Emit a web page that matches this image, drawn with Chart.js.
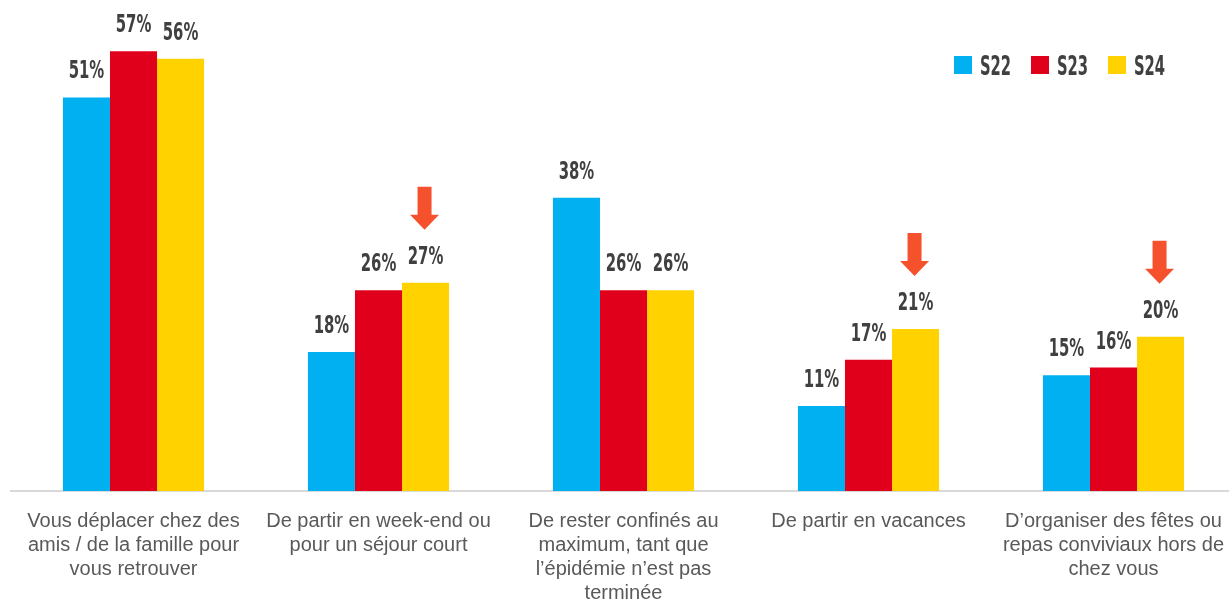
<!DOCTYPE html>
<html>
<head>
<meta charset="utf-8">
<script src="https://cdn.jsdelivr.net/npm/chart.js@4"></script>
<style>
  html, body { margin: 0; padding: 0; background: #fff; overflow: hidden; }
  canvas { display: block; }
</style>
</head>
<body>
<canvas id="chart" width="1240" height="599"></canvas>
<script>
// categories (x labels, split on lines)
const categories = [
    ['Vous déplacer chez des', 'amis / de la famille pour', 'vous retrouver'],
    ['De partir en week-end ou', 'pour un séjour court'],
    ['De rester confinés au', 'maximum, tant que', 'l\u2019épidémie n\u2019est pas', 'terminée'],
    ['De partir en vacances'],
    ['D\u2019organiser des fêtes ou', 'repas conviviaux hors de', 'chez vous']
];
const seriesNames = ['S22', 'S23', 'S24'];
const s22 = [51, 18, 38, 11, 15];
const s23 = [57, 26, 26, 17, 16];
const s24 = [56, 27, 26, 21, 20];
// down arrows over the S24 bar
const arrowFlags = [false, true, false, true, true];

const colors = ['#00B0F0', '#E0001B', '#FFD200'];
const numFont = 'bold 25px "DejaVu Sans Condensed", "DejaVu Sans", sans-serif';

// condensed look: squeeze text horizontally
function narrowText(ctx, text, x, y, sx){
    ctx.save();
    ctx.translate(x, y);
    ctx.scale(sx, 1);
    ctx.fillText(text, 0, 0);
    ctx.restore();
}

// values above bars + arrows
const labelsPlugin = {
    id: 'barLabels',
    afterDatasetsDraw(chart){
        const ctx = chart.ctx;
        ctx.save();
        ctx.font = numFont;
        ctx.fillStyle = '#404040';
        ctx.textAlign = 'center';
        ctx.textBaseline = 'alphabetic';
        chart.data.datasets.forEach((ds, di) => {
            const meta = chart.getDatasetMeta(di);
            meta.data.forEach((bar, i) => {
                narrowText(ctx, ds.data[i] + '%', bar.x, bar.y - 19, 0.66);
            });
        });
        // arrows
        const meta = chart.getDatasetMeta(2);
        ctx.fillStyle = '#F4512C';
        meta.data.forEach((bar, i) => {
            if (!arrowFlags[i]) return;
            const cx = bar.x - 1, bottom = bar.y - 53;
            const h = 43, headH = 15, shaft = 14, head = 29;
            ctx.beginPath();
            ctx.moveTo(cx - shaft/2, bottom - h);
            ctx.lineTo(cx + shaft/2, bottom - h);
            ctx.lineTo(cx + shaft/2, bottom - headH);
            ctx.lineTo(cx + head/2, bottom - headH);
            ctx.lineTo(cx, bottom);
            ctx.lineTo(cx - head/2, bottom - headH);
            ctx.lineTo(cx - shaft/2, bottom - headH);
            ctx.closePath();
            ctx.fill();
        });
        ctx.restore();
    }
};

// legend top right
const legendPlugin = {
    id: 'topLegend',
    afterDraw(chart){
        const ctx = chart.ctx;
        ctx.save();
        ctx.font = 'bold 26px "DejaVu Sans Condensed", "DejaVu Sans", sans-serif';
        ctx.textBaseline = 'alphabetic';
        ctx.textAlign = 'left';
        let x = 954;
        chart.data.datasets.forEach((ds) => {
            ctx.fillStyle = ds.backgroundColor;
            ctx.fillRect(x, 56, 18, 18);
            ctx.fillStyle = '#404040';
            narrowText(ctx, ds.label, x + 26, 75, 0.63);
            x += 77;
        });
        ctx.restore();
    }
};

new Chart(document.getElementById('chart'), {
    type: 'bar',
    data: {
        labels: categories,
        datasets: [
            { label: seriesNames[0], data: s22, backgroundColor: colors[0] },
            { label: seriesNames[1], data: s23, backgroundColor: colors[1] },
            { label: seriesNames[2], data: s24, backgroundColor: colors[2] }
        ]
    },
    options: {
        responsive: false,
        animation: false,
        layout: { padding: { left: 11, right: 4, top: 28, bottom: 0 } },
        datasets: { bar: { categoryPercentage: 0.576, barPercentage: 1.0 } },
        plugins: { legend: { display: false }, tooltip: { enabled: false } },
        scales: {
            x: {
                grid: { display: false },
                border: { display: true, color: '#D9D9D9', width: 2 },
                ticks: {
                    color: '#595959',
                    font: { family: '"Liberation Sans", Arial, sans-serif', size: 20, lineHeight: 1.2 },
                    padding: 10,
                    maxRotation: 0,
                    autoSkip: false
                },
                afterFit(scale){ scale.height = 108; }
            },
            y: {
                display: false,
                min: 0,
                max: 60
            }
        }
    },
    plugins: [labelsPlugin, legendPlugin]
});
</script>
</body>
</html>
